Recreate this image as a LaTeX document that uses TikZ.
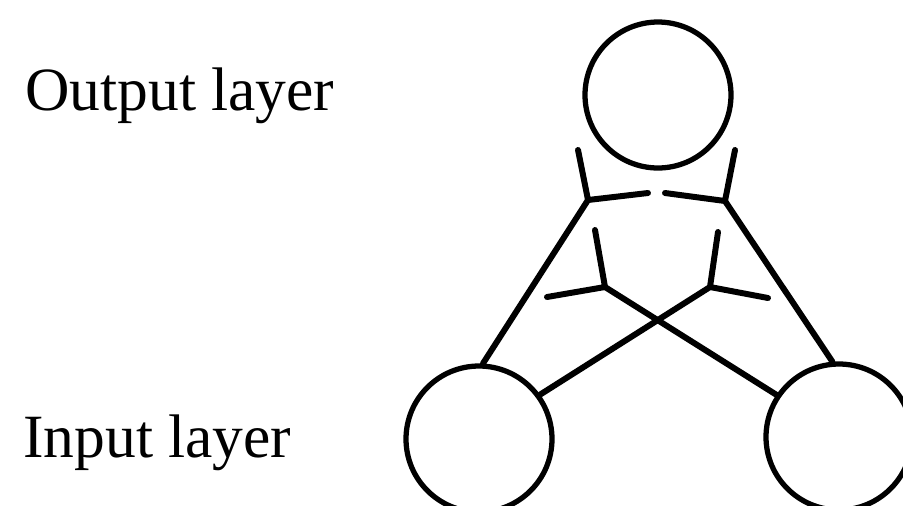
\documentclass[tikz,border=0pt]{standalone}
\usepackage{fontspec}
\setmainfont{Liberation Serif}
\usepackage{tikz}

\tikzset{
  neuron/.style={draw, circle, line width=3pt, inner sep=0pt, minimum size=2.92cm},
  link/.style={line width=3.4pt, line cap=round, line join=round},
  layername/.style={anchor=base west, inner sep=0pt, font=\fontsize{35}{40}\selectfont}
}

\begin{document}
\begin{tikzpicture}[x=0.02cm, y=-0.02cm]
  \useasboundingbox (0,0) rectangle (903,505);
  \node[layername] (outlbl) at (25,110) {Output layer};
  \node[layername] (inlbl) at (23,457) {Input layer};

  \node[neuron] (out) at (658,95) {};
  \node[neuron] (inl) at (479,439) {};
  \node[neuron] (inr) at (839,437) {};

  % branch points and the free ends of the synapses
  \coordinate (ja) at (588,200);  \coordinate (jb) at (725,201);
  \coordinate (jc) at (605,287);  \coordinate (jd) at (710,287);
  \coordinate (ta) at (578,150);  \coordinate (sa) at (648,193);
  \coordinate (tb) at (735,150);  \coordinate (sb) at (665,193);
  \coordinate (tc) at (595,230);  \coordinate (sc) at (547,297);
  \coordinate (td) at (718,232);  \coordinate (sd) at (768,298);

  \draw[link] (inl.87) -- (ja);
  \draw[link] (ta) -- (ja) -- (sa);
  \draw[link] (inr.95) -- (jb);
  \draw[link] (tb) -- (jb) -- (sb);
  \draw[link] (inl.36) -- (jd);
  \draw[link] (td) -- (jd) -- (sd);
  \draw[link] (inr.146) -- (jc);
  \draw[link] (tc) -- (jc) -- (sc);
\end{tikzpicture}
\end{document}
